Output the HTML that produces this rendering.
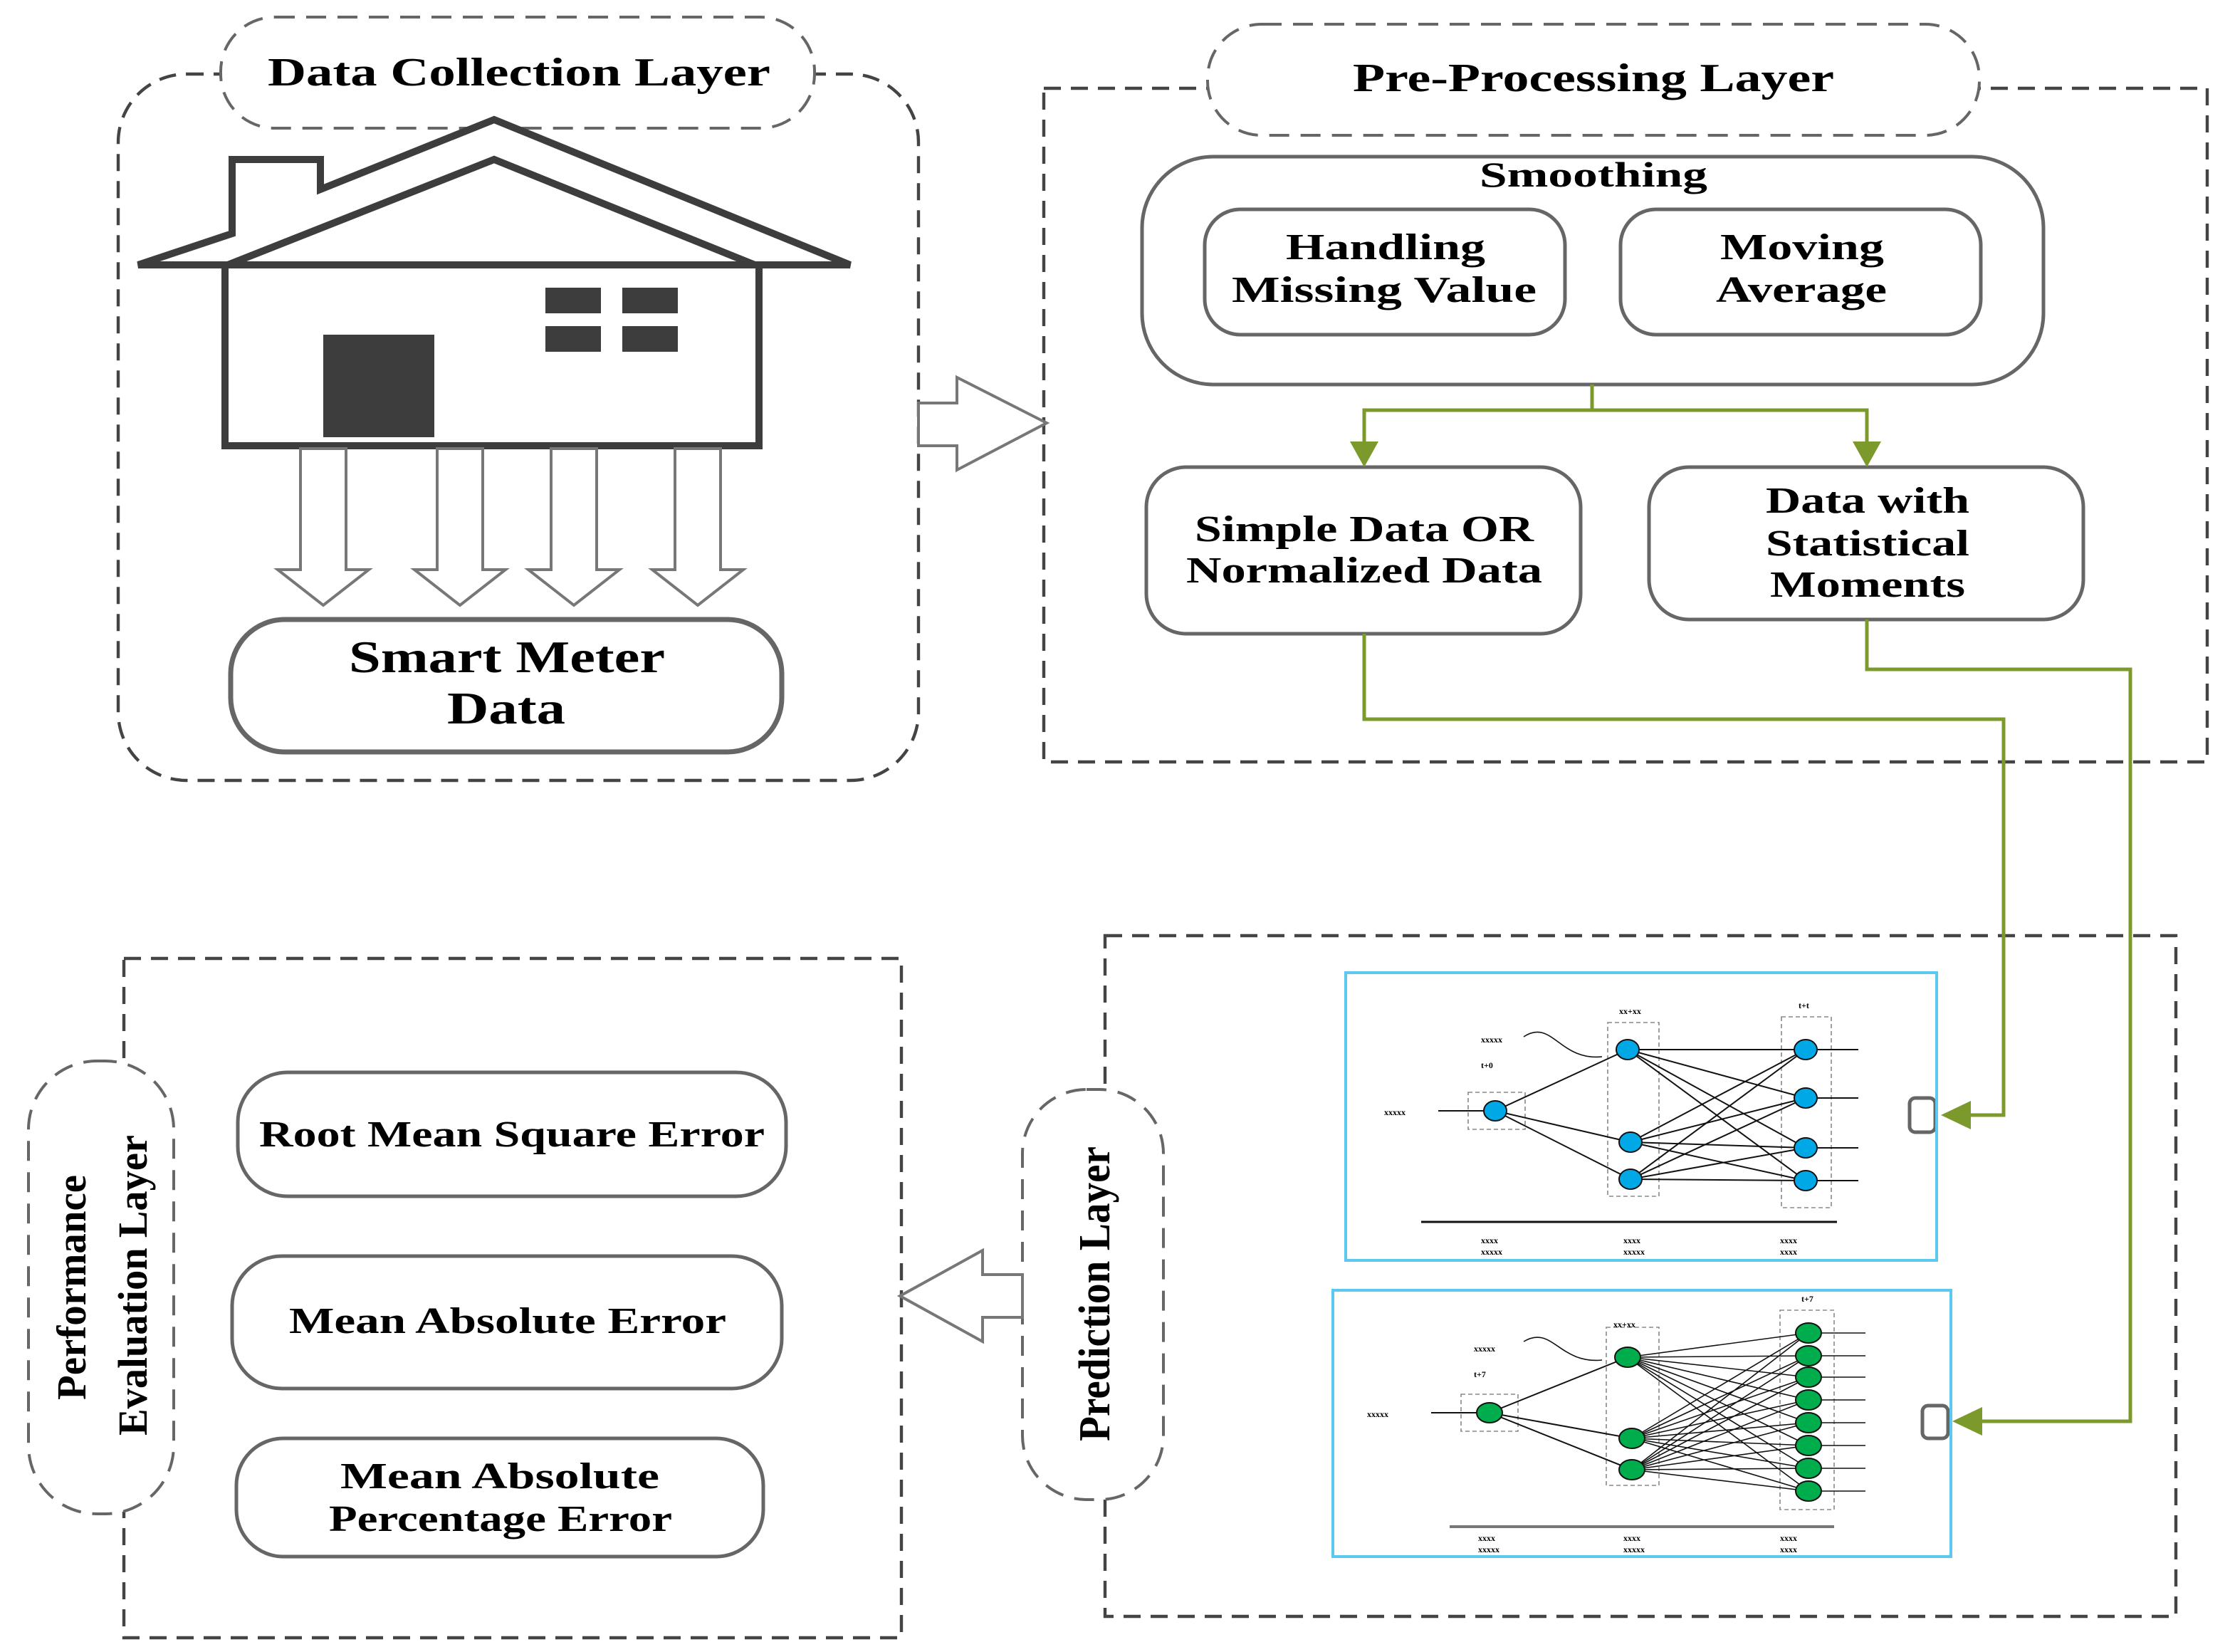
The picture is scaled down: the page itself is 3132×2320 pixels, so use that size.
<!DOCTYPE html>
<html><head><meta charset="utf-8"><style>
html,body{margin:0;padding:0;background:#fff;}
svg{display:block;}
text{font-family:"Liberation Serif",serif;font-weight:bold;fill:#000;}
</style></head><body>
<svg width="3132" height="2320" viewBox="0 0 1566 1160" xmlns="http://www.w3.org/2000/svg">
<rect width="1566" height="1160" fill="#fff"/>
<g fill="none" stroke="#444" stroke-width="2.2" stroke-dasharray="12,7">
<rect x="83" y="52" width="562" height="496" rx="48"/>
<rect x="733" y="62" width="817" height="473"/>
<rect x="776" y="657" width="752" height="478"/>
<rect x="87" y="673" width="546" height="477"/>
</g>
<g fill="#fff" stroke="#666" stroke-width="2" stroke-dasharray="14,8">
<rect x="155" y="12" width="417" height="78" rx="38"/>
<rect x="848" y="17" width="542" height="78" rx="38"/>
<rect x="718" y="765" width="99" height="288" rx="45"/>
<rect x="20" y="745" width="102" height="318" rx="48"/>
</g>
<text x="188" y="60" font-size="28" textLength="353" lengthAdjust="spacingAndGlyphs">Data Collection Layer</text>
<text x="950" y="64" font-size="28" textLength="338" lengthAdjust="spacingAndGlyphs">Pre-Processing Layer</text>
<text transform="translate(779,1012) rotate(-90)" font-size="31" textLength="207" lengthAdjust="spacingAndGlyphs">Prediction Layer</text>
<text transform="translate(60,983) rotate(-90)" font-size="29" textLength="158" lengthAdjust="spacingAndGlyphs">Performance</text>
<text transform="translate(103,1008) rotate(-90)" font-size="29" textLength="211" lengthAdjust="spacingAndGlyphs">Evaluation Layer</text>
<!-- house -->
<g stroke="#3d3d3d" stroke-width="5" fill="#fff" stroke-linejoin="miter">
<polygon points="97,186 163,164 163,112 225,112 225,133 347,84 597,186 530,186 347,112 160,186"/>
<rect x="158" y="186" width="375" height="127"/>
</g>
<polygon points="160,186 347,112 530,186" fill="#fff" stroke="#3d3d3d" stroke-width="5"/>
<g fill="#3d3d3d">
<rect x="227" y="235" width="78" height="72"/>
<rect x="383" y="202" width="39" height="18"/><rect x="437" y="202" width="39" height="18"/>
<rect x="383" y="229" width="39" height="18"/><rect x="437" y="229" width="39" height="18"/>
</g>
<g fill="#fff" stroke="#777" stroke-width="2">
<polygon points="211,315 243,315 243,400 259,400 227,425 195,400 211,400"/>
<polygon points="307,315 339,315 339,400 355,400 323,425 291,400 307,400"/>
<polygon points="387,315 419,315 419,400 435,400 403,425 371,400 387,400"/>
<polygon points="474,315 506,315 506,400 522,400 490,425 458,400 474,400"/>
<polygon points="645,283 672,283 672,265 735,297 672,330 672,313 645,313"/>
<polygon points="718,895 690,895 690,878 632,910 690,942 690,925 718,925"/>
</g>
<g fill="#fff" stroke="#666" stroke-width="2.5">
<rect x="162" y="435" width="387" height="93" rx="38" stroke-width="3.5"/>
<rect x="802" y="110" width="633" height="160" rx="50"/>
<rect x="846" y="147" width="253" height="88" rx="25"/>
<rect x="1138" y="147" width="253" height="88" rx="25"/>
<rect x="805" y="328" width="305" height="117" rx="28"/>
<rect x="1158" y="328" width="305" height="107" rx="28"/>
<rect x="167" y="753" width="385" height="87" rx="35"/>
<rect x="163" y="882" width="386" height="93" rx="35"/>
<rect x="166" y="1010" width="370" height="83" rx="33"/>
<rect x="1341" y="771" width="18" height="24" rx="4"/>
<rect x="1350" y="987" width="18" height="23" rx="4"/>
</g>
<text x="245" y="472" font-size="32" textLength="222" lengthAdjust="spacingAndGlyphs">Smart Meter</text>
<text x="314" y="508" font-size="32" textLength="83" lengthAdjust="spacingAndGlyphs">Data</text>
<text x="1039" y="131" font-size="25" textLength="160" lengthAdjust="spacingAndGlyphs">Smoothing</text>
<text x="903" y="182" font-size="26" textLength="140" lengthAdjust="spacingAndGlyphs">Handling</text>
<text x="865" y="212" font-size="26" textLength="214" lengthAdjust="spacingAndGlyphs">Missing Value</text>
<text x="1208" y="182" font-size="26" textLength="115" lengthAdjust="spacingAndGlyphs">Moving</text>
<text x="1205" y="212" font-size="26" textLength="120" lengthAdjust="spacingAndGlyphs">Average</text>
<text x="839" y="380" font-size="26" textLength="238" lengthAdjust="spacingAndGlyphs">Simple Data OR</text>
<text x="833" y="409" font-size="26" textLength="250" lengthAdjust="spacingAndGlyphs">Normalized Data</text>
<text x="1240" y="360" font-size="26" textLength="143" lengthAdjust="spacingAndGlyphs">Data with</text>
<text x="1240" y="390" font-size="26" textLength="143" lengthAdjust="spacingAndGlyphs">Statistical</text>
<text x="1243" y="419" font-size="26" textLength="137" lengthAdjust="spacingAndGlyphs">Moments</text>
<text x="182" y="805" font-size="26" textLength="355" lengthAdjust="spacingAndGlyphs">Root Mean Square Error</text>
<text x="203" y="936" font-size="26" textLength="307" lengthAdjust="spacingAndGlyphs">Mean Absolute Error</text>
<text x="239" y="1045" font-size="26" textLength="224" lengthAdjust="spacingAndGlyphs">Mean Absolute</text>
<text x="231" y="1075" font-size="26" textLength="241" lengthAdjust="spacingAndGlyphs">Percentage Error</text>
<!-- green connectors -->
<g fill="none" stroke="#7b9a2b" stroke-width="2.5">
<polyline points="1118,270 1118,288 958,288 958,312"/>
<polyline points="1118,288 1311,288 1311,312"/>
<polyline points="958,445 958,505 1407,505 1407,783 1380,783"/>
<polyline points="1311,435 1311,470 1496,470 1496,998 1388,998"/>
</g>
<g fill="#7b9a2b">
<polygon points="948,310 968,310 958,328"/>
<polygon points="1301,310 1321,310 1311,328"/>
<polygon points="1384,773 1384,793 1363,783"/>
<polygon points="1392,988 1392,1008 1371,998"/>
</g>
<!-- blue net -->
<rect x="945" y="683" width="415" height="202" fill="none" stroke="#5bc8f0" stroke-width="2"/>
<g fill="none" stroke="#888" stroke-width="0.8" stroke-dasharray="3,2">
<rect x="1031" y="767" width="40" height="26"/><rect x="1129" y="718" width="36" height="122"/><rect x="1251" y="714" width="35" height="134"/>
<rect x="1026" y="979" width="40" height="26"/><rect x="1128" y="932" width="37" height="111"/><rect x="1250" y="920" width="38" height="140"/>
</g>
<g stroke="#111" stroke-width="1">
<line x1="1050" y1="780" x2="1143" y2="737"/><line x1="1050" y1="780" x2="1145" y2="802"/><line x1="1050" y1="780" x2="1145" y2="828"/>
<line x1="1143" y1="737" x2="1268" y2="737"/><line x1="1143" y1="737" x2="1268" y2="771"/><line x1="1143" y1="737" x2="1268" y2="806"/><line x1="1143" y1="737" x2="1268" y2="829"/>
<line x1="1145" y1="802" x2="1268" y2="737"/><line x1="1145" y1="802" x2="1268" y2="771"/><line x1="1145" y1="802" x2="1268" y2="806"/><line x1="1145" y1="802" x2="1268" y2="829"/>
<line x1="1145" y1="828" x2="1268" y2="737"/><line x1="1145" y1="828" x2="1268" y2="771"/><line x1="1145" y1="828" x2="1268" y2="806"/><line x1="1145" y1="828" x2="1268" y2="829"/>
<line x1="1010" y1="780" x2="1050" y2="780"/>
<line x1="1268" y1="737" x2="1305" y2="737"/><line x1="1268" y1="771" x2="1305" y2="771"/><line x1="1268" y1="806" x2="1305" y2="806"/><line x1="1268" y1="829" x2="1305" y2="829"/>
<line x1="998" y1="858" x2="1290" y2="858" stroke-width="1.5"/>
<line x1="1046" y1="992" x2="1143" y2="953"/><line x1="1046" y1="992" x2="1146" y2="1010"/><line x1="1046" y1="992" x2="1146" y2="1032"/>
<line x1="1005" y1="992" x2="1046" y2="992"/>
<line x1="1018" y1="1072" x2="1288" y2="1072" stroke="#777" stroke-width="2"/>
</g>
<g stroke="#111" stroke-width="0.8">
<path d="M1143,953 L1270,936 M1143,953 L1270,952 M1143,953 L1270,967 M1143,953 L1270,983 M1143,953 L1270,999 M1143,953 L1270,1015 M1143,953 L1270,1031 M1143,953 L1270,1047"/>
<path d="M1146,1010 L1270,936 M1146,1010 L1270,952 M1146,1010 L1270,967 M1146,1010 L1270,983 M1146,1010 L1270,999 M1146,1010 L1270,1015 M1146,1010 L1270,1031 M1146,1010 L1270,1047"/>
<path d="M1146,1032 L1270,936 M1146,1032 L1270,952 M1146,1032 L1270,967 M1146,1032 L1270,983 M1146,1032 L1270,999 M1146,1032 L1270,1015 M1146,1032 L1270,1031 M1146,1032 L1270,1047"/>
<path d="M1270,936 H1310 M1270,952 H1310 M1270,967 H1310 M1270,983 H1310 M1270,999 H1310 M1270,1015 H1310 M1270,1031 H1310 M1270,1047 H1310"/>
<path d="M1070,728 C1090,715 1095,745 1125,742 M1070,942 C1090,930 1095,958 1125,955" fill="none"/>
</g>
<g stroke="#111" stroke-width="1" fill="#00a9e6">
<ellipse cx="1050" cy="780" rx="8" ry="7"/><ellipse cx="1143" cy="737" rx="8" ry="7"/><ellipse cx="1145" cy="802" rx="8" ry="7"/><ellipse cx="1145" cy="828" rx="8" ry="7"/>
<ellipse cx="1268" cy="737" rx="8" ry="7"/><ellipse cx="1268" cy="771" rx="8" ry="7"/><ellipse cx="1268" cy="806" rx="8" ry="7"/><ellipse cx="1268" cy="829" rx="8" ry="7"/>
</g>
<rect x="936" y="906" width="434" height="187" fill="none" stroke="#5bc8f0" stroke-width="2"/>
<g stroke="#111" stroke-width="1" fill="#00ad4c">
<ellipse cx="1046" cy="992" rx="9" ry="7"/><ellipse cx="1143" cy="953" rx="9" ry="7"/><ellipse cx="1146" cy="1010" rx="9" ry="7"/><ellipse cx="1146" cy="1032" rx="9" ry="7"/>
<ellipse cx="1270" cy="936" rx="9" ry="7"/><ellipse cx="1270" cy="952" rx="9" ry="7"/><ellipse cx="1270" cy="967" rx="9" ry="7"/><ellipse cx="1270" cy="983" rx="9" ry="7"/>
<ellipse cx="1270" cy="999" rx="9" ry="7"/><ellipse cx="1270" cy="1015" rx="9" ry="7"/><ellipse cx="1270" cy="1031" rx="9" ry="7"/><ellipse cx="1270" cy="1047" rx="9" ry="7"/>
</g>
<g font-size="6" fill="#333">
<text x="1040" y="732">xxxxx</text><text x="1040" y="750">t+0</text><text x="972" y="783">xxxxx</text><text x="1137" y="712">xx+xx</text><text x="1263" y="708">t+t</text>
<text x="1040" y="873">xxxx</text><text x="1040" y="881">xxxxx</text><text x="1140" y="873">xxxx</text><text x="1140" y="881">xxxxx</text><text x="1250" y="873">xxxx</text><text x="1250" y="881">xxxx</text>
<text x="1035" y="949">xxxxx</text><text x="1035" y="967">t+7</text><text x="960" y="995">xxxxx</text><text x="1133" y="932">xx+xx</text><text x="1265" y="914">t+7</text>
<text x="1038" y="1082">xxxx</text><text x="1038" y="1090">xxxxx</text><text x="1140" y="1082">xxxx</text><text x="1140" y="1090">xxxxx</text><text x="1250" y="1082">xxxx</text><text x="1250" y="1090">xxxx</text>
</g>
</svg>
</body></html>
